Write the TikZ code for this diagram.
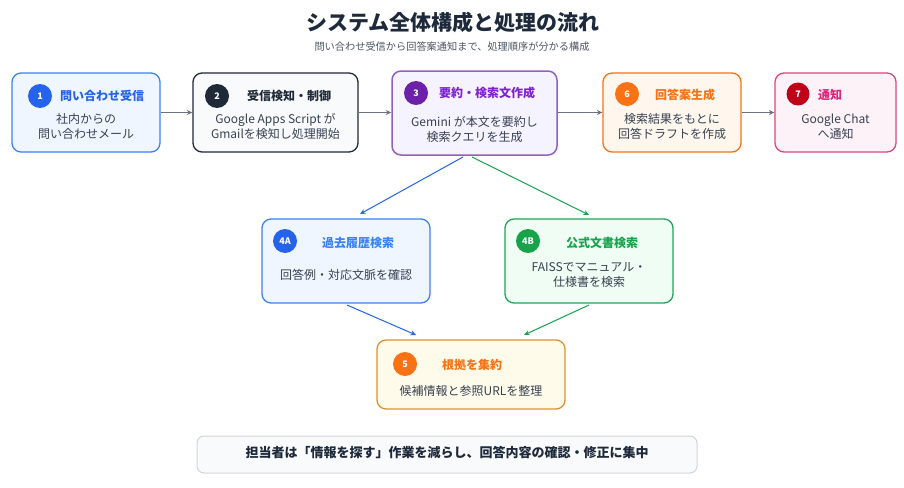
\documentclass[tikz,border=0pt]{standalone}
\usepackage{fontspec}
\setmainfont{Noto Sans CJK JP}
\usetikzlibrary{arrows.meta}
\definecolor{bluS}{HTML}{3B82F6}\definecolor{bluF}{HTML}{EFF6FF}\definecolor{bluC}{HTML}{2563EB}
\definecolor{drkS}{HTML}{1F2937}\definecolor{drkF}{HTML}{F8FAFC}
\definecolor{purS}{HTML}{9160C4}\definecolor{purF}{HTML}{F5F3FF}\definecolor{purC}{HTML}{6B21A8}\definecolor{purT}{HTML}{7E22CE}
\definecolor{orgS}{HTML}{F97316}\definecolor{orgF}{HTML}{FFF7ED}
\definecolor{ambS}{HTML}{E0912F}\definecolor{ambF}{HTML}{FFFBEB}
\definecolor{pnkS}{HTML}{E0457B}\definecolor{pnkF}{HTML}{FDF2F8}\definecolor{pnkC}{HTML}{C00018}\definecolor{pnkT}{HTML}{DB2777}
\definecolor{grnS}{HTML}{22A35A}\definecolor{grnF}{HTML}{F0FDF4}\definecolor{grnC}{HTML}{16A34A}
\definecolor{txtB}{HTML}{374151}\definecolor{arrG}{HTML}{6B7280}\definecolor{ttlC}{HTML}{1E2A3B}
\definecolor{subC}{HTML}{4B5563}\definecolor{botS}{HTML}{D1D5DB}
\tikzset{
 box/.style={draw, rounded corners=9pt, line width=1.3pt, inner sep=0pt},
 numc/.style={circle, minimum size=24pt, inner sep=0pt, text=white, font=\bfseries\fontsize{9}{9}\selectfont},
 ttl/.style={inner sep=0pt, font=\bfseries\fontsize{12}{14}\selectfont},
 body/.style={inner sep=0pt, align=center, text=txtB, font=\fontsize{12}{15}\selectfont},
 conn/.style={line width=1pt, -{Stealth[length=5.5pt,width=5pt]}},
}
\begin{document}
\begin{tikzpicture}[x=1pt,y=-1pt]
\useasboundingbox[fill=white] (0,0) rectangle (904,487);
% titles
\node[inner sep=0pt, text=ttlC, font=\bfseries\fontsize{21}{24}\selectfont] (title) at (453,22) {システム全体構成と処理の流れ};
\node[inner sep=0pt, text=subC, font=\fontsize{10.2}{12}\selectfont] (sub) at (452,47) {問い合わせ受信から回答案通知まで、処理順序が分かる構成};
% row 1 boxes
\node[box, draw=bluS, fill=bluF, minimum width=148pt, minimum height=79pt] (b1) at (86,112.5) {};
\node[box, draw=drkS, fill=drkF, minimum width=165pt, minimum height=79pt] (b2) at (275.5,112.5) {};
\node[box, draw=purS, fill=purF, line width=1.5pt, minimum width=165pt, minimum height=84pt] (b3) at (474.5,113) {};
\node[box, draw=orgS, fill=orgF, minimum width=138pt, minimum height=79pt] (b6) at (672,112.5) {};
\node[box, draw=pnkS, fill=pnkF, minimum width=121pt, minimum height=79pt] (b7) at (835.5,112.5) {};
% row 2
\node[box, draw=bluS, fill=bluF, minimum width=168pt, minimum height=84pt] (b4a) at (346,261) {};
\node[box, draw=grnS, fill=grnF, minimum width=168pt, minimum height=84pt] (b4b) at (589,261) {};
% row 3
\node[box, draw=ambS, fill=ambF, minimum width=188pt, minimum height=69pt] (b5) at (471,374.5) {};
% bottom
\node[box, draw=botS, fill=drkF, line width=1pt, rounded corners=7pt, minimum width=500pt, minimum height=37pt] (bot) at (447,454.5) {};
\node[inner sep=0pt, text=ttlC, font=\bfseries\fontsize{13}{15}\selectfont] (bottxt) at (447,452.5) {担当者は「情報を探す」作業を減らし、回答内容の確認・修正に集中};
% box 1
\node[numc, fill=bluC] (n1) at (40,96) {1};
\node[ttl, text=bluC] (t1) at (102,96) {問い合わせ受信};
\node[body] (d1) at (86,126) {社内からの\\問い合わせメール};
% box 2
\node[numc, fill=drkS] (n2) at (217,96) {2};
\node[ttl, text=drkS] (t2) at (289,96) {受信検知・制御};
\node[body] (d2) at (275.5,126) {Google Apps Script が\\Gmailを検知し処理開始};
% box 3
\node[numc, fill=purC] (n3) at (416,93) {3};
\node[ttl, text=purT] (t3) at (487,93) {要約・検索文作成};
\node[body] (d3) at (474.5,129.5) {Gemini が本文を要約し\\検索クエリを生成};
% box 6
\node[numc, fill=orgS] (n6) at (627,94) {6};
\node[ttl, text=orgS] (t6) at (685,95) {回答案生成};
\node[body] (d6) at (672,126.5) {検索結果をもとに\\回答ドラフトを作成};
% box 7
\node[numc, fill=pnkC, minimum size=23pt] (n7) at (798,94) {7};
\node[ttl, text=pnkT] (t7) at (830,95) {通知};
\node[body] (d7) at (835.5,126.5) {Google Chat\\へ通知};
% box 4A
\node[numc, fill=bluC] (n4a) at (285,241) {4A};
\node[ttl, text=bluS] (t4a) at (358,243) {過去履歴検索};
\node[body] (d4a) at (346,275) {回答例・対応文脈を確認};
% box 4B
\node[numc, fill=grnC] (n4b) at (528,241) {4B};
\node[ttl, text=grnC] (t4b) at (602,243) {公式文書検索};
\node[body] (d4b) at (589,275.5) {FAISSでマニュアル・\\仕様書を検索};
% box 5
\node[numc, fill=orgS] (n5) at (405,364) {5};
\node[ttl, text=orgS] (t5) at (472,365) {根拠を集約};
\node[body] (d5) at (471,391) {候補情報と参照URLを整理};
% connector points
\coordinate (s3a) at (463,157); \coordinate (e4a) at (360,214);
\coordinate (s3b) at (472,157); \coordinate (e4b) at (589,215);
\coordinate (s4a) at (347,305); \coordinate (e5a) at (416,335);
\coordinate (s4b) at (589,305); \coordinate (e5b) at (524,335);
% connectors
\draw[conn, arrG] (b1.east) -- (b2.west);
\draw[conn, arrG] (b2.east) -- (b3.west |- b2.east);
\draw[conn, arrG] (b3.east |- b6.west) -- (b6.west);
\draw[conn, arrG] (b6.east) -- (b7.west);
\draw[conn, bluC] (s3a) -- (e4a);
\draw[conn, grnC] (s3b) -- (e4b);
\draw[conn, bluC] (s4a) -- (e5a);
\draw[conn, grnC] (s4b) -- (e5b);
\end{tikzpicture}
\end{document}
